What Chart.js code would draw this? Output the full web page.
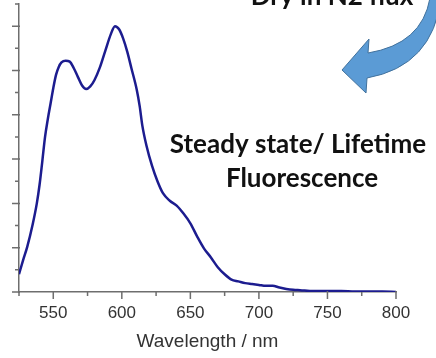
<!DOCTYPE html>
<html>
<head>
<meta charset="utf-8">
<script src="https://cdn.jsdelivr.net/npm/chart.js@4"></script>
<style>
  html, body { margin: 0; padding: 0; background: #fff; }
  #wrap { width: 436px; height: 358px; position: relative; }
</style>
</head>
<body>
<div id="wrap"><canvas id="chart"></canvas></div>
<script>
// emission spectrum (arbitrary units)
const wavelengths = [525, 528, 531, 535, 538, 540, 542, 544, 546, 548, 550, 552, 554, 556, 559, 562, 565, 568, 571, 574, 577, 580, 584, 588, 592, 595, 598, 601, 604, 607, 611, 613, 615, 618, 622, 626, 630, 635, 640, 645, 650, 655, 660, 665, 670, 675, 680, 685, 690, 695, 700, 705, 710, 715, 720, 725, 730, 740, 750, 760, 770, 780, 790, 800];
const intensity = [0.40, 0.72, 1.02, 1.53, 2.00, 2.42, 2.95, 3.50, 3.90, 4.25, 4.60, 4.90, 5.08, 5.18, 5.22, 5.20, 5.05, 4.85, 4.66, 4.58, 4.64, 4.78, 5.07, 5.45, 5.82, 6.00, 5.93, 5.72, 5.42, 5.05, 4.55, 4.20, 3.75, 3.30, 2.85, 2.50, 2.23, 2.06, 1.95, 1.77, 1.55, 1.25, 0.98, 0.78, 0.56, 0.40, 0.28, 0.24, 0.20, 0.18, 0.16, 0.14, 0.14, 0.10, 0.07, 0.05, 0.04, 0.02, 0.02, 0.02, 0.01, 0.01, 0.01, 0.00];

const xTickLabels = [550, 600, 650, 700, 750, 800];
const xMinorTicks = [525, 575, 625, 675, 725, 775];
const yMajorTicks = [0, 1, 2, 3, 4, 5, 6];
const yMinorTicks = [0.5, 1.5, 2.5, 3.5, 4.5, 5.5, 6.5];

const xTitle = 'Wavelength / nm';
const noteTop = 'Dry in N2 flux';
const noteLines = ['Steady state/ Lifetime', 'Fluorescence'];

const axisGray = '#6e6e6e';

const decor = {
  id: 'decor',
  afterDraw(chart) {
    const ctx = chart.ctx;
    const xs = chart.scales.x, ys = chart.scales.y;
    const ax = chart.chartArea.left, ay = chart.chartArea.bottom;
    ctx.save();
    ctx.strokeStyle = axisGray;
    ctx.lineWidth = 1.5;
    ctx.beginPath();
    xTickLabels.forEach(v => { const p = xs.getPixelForValue(v); ctx.moveTo(p, ay - 1); ctx.lineTo(p, ay + 7); });
    xMinorTicks.forEach(v => { const p = xs.getPixelForValue(v); ctx.moveTo(p, ay); ctx.lineTo(p, ay + 4); });
    yMajorTicks.forEach(v => { const p = ys.getPixelForValue(v); ctx.moveTo(ax + 1, p); ctx.lineTo(ax - 7, p); });
    yMinorTicks.forEach(v => { const p = ys.getPixelForValue(v); ctx.moveTo(ax, p); ctx.lineTo(ax - 4, p); });
    ctx.stroke();

    // curved arrow
    ctx.beginPath();
    ctx.moveTo(342, 70);
    ctx.lineTo(369, 39);
    ctx.lineTo(368, 53);
    ctx.quadraticCurveTo(422, 44, 430, -2);
    ctx.lineTo(441, -2);
    ctx.quadraticCurveTo(433, 66, 367, 78);
    ctx.lineTo(366, 93);
    ctx.closePath();
    ctx.fillStyle = '#5b9bd5';
    ctx.fill();
    ctx.strokeStyle = '#41719c';
    ctx.lineWidth = 1;
    ctx.stroke();

    // annotation text
    ctx.fillStyle = '#111';
    ctx.font = 'bold 26px Lato, "Open Sans", sans-serif';
    ctx.textAlign = 'center';
    ctx.textBaseline = 'alphabetic';
    ctx.fillText(noteTop, 332, 5);
    ctx.fillText(noteLines[0], 298, 153);
    ctx.fillText(noteLines[1], 302, 187);
    ctx.restore();
  }
};

new Chart(document.getElementById('chart'), {
  type: 'line',
  data: {
    datasets: [{
      data: wavelengths.map((w, i) => ({ x: w, y: intensity[i] })),
      borderColor: '#1c1c8f',
      borderWidth: 2.5,
      pointRadius: 0,
      cubicInterpolationMode: 'monotone',
      fill: false
    }]
  },
  options: {
    responsive: true,
    maintainAspectRatio: false,
    animation: false,
    layout: { padding: { top: 4, right: 40, left: 0, bottom: 0 } },
    plugins: { legend: { display: false }, tooltip: { enabled: false } },
    scales: {
      x: {
        type: 'linear',
        min: 525,
        max: 800,
        afterBuildTicks: s => { s.ticks = xTickLabels.map(v => ({ value: v })); },
        afterFit: s => { s.height = 66; },
        grid: { display: false, drawTicks: false },
        border: { display: true, color: axisGray, width: 1.5 },
        ticks: { color: '#333', font: { family: 'Liberation Sans, Arial', size: 17 }, padding: 11, maxRotation: 0 },
        title: { display: true, text: xTitle, color: '#333', font: { family: 'Liberation Sans, Arial', size: 19 }, padding: { top: 0, bottom: 5 } }
      },
      y: {
        type: 'linear',
        min: 0,
        max: 6.5,
        afterFit: s => { s.width = 19; },
        grid: { display: false, drawTicks: false },
        border: { display: true, color: axisGray, width: 1.5 },
        ticks: { display: false }
      }
    }
  },
  plugins: [decor]
});
</script>
</body>
</html>
